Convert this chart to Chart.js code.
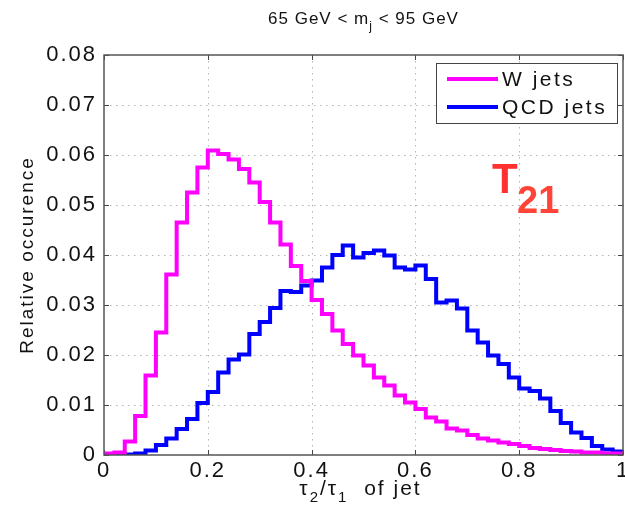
<!DOCTYPE html>
<html>
<head>
<meta charset="utf-8">
<script src="https://cdn.jsdelivr.net/npm/chart.js@4/dist/chart.umd.min.js"></script>
<style>
  html, body { margin: 0; padding: 0; background: #ffffff; }
  #wrap { width: 625px; height: 508px; }
</style>
</head>
<body>
<div id="wrap"><canvas id="c" width="625" height="508"></canvas></div>
<script>
// Histogram of tau2/tau1 for jets with 65 GeV < m_j < 95 GeV, 50 bins on [0, 1]
const binWidth = 0.02;

const wJets = [
  0.0003, 0.0005, 0.0027, 0.0078, 0.0159, 0.0245, 0.0361, 0.0465, 0.0525, 0.0575,
  0.0609, 0.0602, 0.0591, 0.0572, 0.0545, 0.0506, 0.0465, 0.0421, 0.0378, 0.0348,
  0.0310, 0.0282, 0.0249, 0.0222, 0.0199, 0.0179, 0.0155, 0.0139, 0.0119, 0.0105,
  0.0092, 0.0075, 0.0067, 0.0053, 0.0049, 0.0040, 0.0033, 0.0029, 0.0025, 0.0022,
  0.0018, 0.0014, 0.0012, 0.0010, 0.0008, 0.0007, 0.0005, 0.0005, 0.0003, 0.0003
];

const qcdJets = [
  0.0001, 0.0001, 0.0001, 0.0003, 0.0009, 0.0020, 0.0033, 0.0052, 0.0072, 0.0104,
  0.0126, 0.0165, 0.0191, 0.0201, 0.0242, 0.0266, 0.0294, 0.0328, 0.0326, 0.0339,
  0.0349, 0.0375, 0.0400, 0.0419, 0.0395, 0.0404, 0.0409, 0.0399, 0.0375, 0.0371,
  0.0379, 0.0352, 0.0305, 0.0309, 0.0293, 0.0249, 0.0225, 0.0199, 0.0182, 0.0155,
  0.0133, 0.0128, 0.0113, 0.0088, 0.0064, 0.0045, 0.0034, 0.0018, 0.0011, 0.0007
];

const xTickLabels = ['0', '0.2', '0.4', '0.6', '0.8', '1'];
const yTickLabels = ['0', '0.01', '0.02', '0.03', '0.04', '0.05', '0.06', '0.07', '0.08'];
const seriesNames = ['W jets', 'QCD jets'];
const seriesColors = ['#ff00ff', '#0000ff'];

const FONT = "'Liberation Sans', Arial, Helvetica, sans-serif";

// stairs: one point per left bin edge, plus the closing edge at x = 1
function stairs(values) {
  const pts = values.map((v, i) => ({ x: Math.round(i * binWidth * 100) / 100, y: v }));
  pts.push({ x: 1, y: values[values.length - 1] });
  return pts;
}

// draw a run of text pieces, some of them lowered as subscripts
function drawRich(ctx, parts, cx, baseline, size, spacing) {
  ctx.save();
  ctx.textBaseline = 'alphabetic';
  ctx.textAlign = 'left';
  ctx.letterSpacing = spacing + 'px';
  let total = 0;
  const widths = parts.map(p => {
    ctx.font = (p.sub ? Math.round(size * 0.7) : size) + 'px ' + FONT;
    const w = ctx.measureText(p.t).width;
    total += w;
    return w;
  });
  let x = cx - total / 2;
  parts.forEach((p, i) => {
    ctx.font = (p.sub ? Math.round(size * 0.7) : size) + 'px ' + FONT;
    ctx.fillText(p.t, x, baseline + (p.sub ? size * 0.35 : 0));
    x += widths[i];
  });
  ctx.restore();
}

// wider tracking for the tick labels drawn by the scales
const trackingPlugin = {
  id: 'tracking',
  beforeLayout(chart) { chart.ctx.letterSpacing = '2px'; },
  beforeDraw(chart) { chart.ctx.letterSpacing = '2px'; }
};

// axes box, dotted grid and inward tick marks
const framePlugin = {
  id: 'frame',
  beforeDatasetsDraw(chart) {
    const { ctx, chartArea: a, scales } = chart;
    ctx.save();
    ctx.strokeStyle = '#b4b4b4';
    ctx.lineWidth = 1;
    ctx.setLineDash([1.5, 4.5]);
    scales.x.ticks.forEach(t => {
      const px = Math.round(scales.x.getPixelForValue(t.value)) + 0.5;
      if (px <= a.left + 1 || px >= a.right - 1) return;
      ctx.beginPath(); ctx.moveTo(px, a.top); ctx.lineTo(px, a.bottom); ctx.stroke();
    });
    scales.y.ticks.forEach(t => {
      const py = Math.round(scales.y.getPixelForValue(t.value)) + 0.5;
      if (py <= a.top + 1 || py >= a.bottom - 1) return;
      ctx.beginPath(); ctx.moveTo(a.left, py); ctx.lineTo(a.right, py); ctx.stroke();
    });
    ctx.setLineDash([]);
    ctx.strokeStyle = '#444444';
    const tl = 5;
    scales.x.ticks.forEach(t => {
      const px = Math.round(scales.x.getPixelForValue(t.value)) + 0.5;
      ctx.beginPath();
      ctx.moveTo(px, a.bottom); ctx.lineTo(px, a.bottom - tl);
      ctx.moveTo(px, a.top); ctx.lineTo(px, a.top + tl);
      ctx.stroke();
    });
    scales.y.ticks.forEach(t => {
      const py = Math.round(scales.y.getPixelForValue(t.value)) + 0.5;
      ctx.beginPath();
      ctx.moveTo(a.left, py); ctx.lineTo(a.left + tl, py);
      ctx.moveTo(a.right, py); ctx.lineTo(a.right - tl, py);
      ctx.stroke();
    });
    ctx.restore();
  },
  afterDatasetsDraw(chart) {
    const { ctx, chartArea: a } = chart;
    ctx.save();
    ctx.strokeStyle = '#555555';
    ctx.lineWidth = 1.5;
    ctx.strokeRect(a.left, a.top, a.right - a.left, a.bottom - a.top);
    ctx.restore();
  }
};

// title, axis titles, legend box and the T21 tag
const labelsPlugin = {
  id: 'labels',
  afterDraw(chart) {
    const { ctx, chartArea: a } = chart;
    const midX = (a.left + a.right) / 2;
    ctx.save();
    ctx.fillStyle = '#111111';

    drawRich(ctx, [
      { t: '65 GeV < m' }, { t: 'j', sub: true }, { t: ' < 95 GeV' }
    ], midX, 24, 17, 1);

    drawRich(ctx, [
      { t: '\u03C4' }, { t: '2', sub: true }, { t: '/\u03C4' }, { t: '1', sub: true }, { t: '  of jet' }
    ], midX - 3, 495, 21, 2);

    ctx.save();
    ctx.translate(33, (a.top + a.bottom) / 2);
    ctx.rotate(-Math.PI / 2);
    ctx.font = '19px ' + FONT;
    ctx.letterSpacing = '2px';
    ctx.textAlign = 'center';
    ctx.textBaseline = 'alphabetic';
    ctx.fillText('Relative occurence', 0, 0);
    ctx.restore();

    // legend
    const lx = 436, ly = 63, lw = 181, lh = 60;
    ctx.fillStyle = '#ffffff';
    ctx.fillRect(lx, ly, lw, lh);
    ctx.strokeStyle = '#444444';
    ctx.lineWidth = 1;
    ctx.strokeRect(lx + 0.5, ly + 0.5, lw, lh);
    seriesNames.forEach((name, i) => {
      const y = ly + 16 + i * 28;
      ctx.strokeStyle = seriesColors[i];
      ctx.lineWidth = 4;
      ctx.beginPath(); ctx.moveTo(lx + 11, y); ctx.lineTo(lx + 62, y); ctx.stroke();
      ctx.fillStyle = '#111111';
      ctx.font = '21px ' + FONT;
      ctx.letterSpacing = '2.5px';
      ctx.textBaseline = 'middle';
      ctx.textAlign = 'left';
      ctx.fillText(name, lx + 66, y + 1);
    });

    // T21 tag
    ctx.letterSpacing = '0px';
    ctx.fillStyle = '#ff3030';
    ctx.textBaseline = 'alphabetic';
    ctx.textAlign = 'left';
    ctx.font = 'bold 42px ' + FONT;
    ctx.fillText('T', 492, 193);
    ctx.fillStyle = '#ff4438';
    ctx.font = 'bold 38px ' + FONT;
    ctx.fillText('21', 517, 213);
    ctx.restore();
  }
};

new Chart(document.getElementById('c'), {
  type: 'line',
  data: {
    datasets: [
      { label: seriesNames[0], data: stairs(wJets), borderColor: seriesColors[0], borderWidth: 4, stepped: 'before', pointRadius: 0, fill: false },
      { label: seriesNames[1], data: stairs(qcdJets), borderColor: seriesColors[1], borderWidth: 4, stepped: 'before', pointRadius: 0, fill: false }
    ]
  },
  options: {
    responsive: false,
    animation: false,
    layout: { padding: { left: 0, top: 55, right: 2, bottom: 0 } },
    plugins: { legend: { display: false }, title: { display: false }, tooltip: { enabled: false } },
    scales: {
      x: {
        type: 'linear', min: 0, max: 1,
        afterFit(s) { s.height = 53; s.paddingLeft = 0; s.paddingRight = 0; },
        grid: { display: false, drawTicks: false },
        border: { display: false },
        ticks: {
          stepSize: 0.2, padding: 3, color: '#111111', maxRotation: 0,
          font: { family: FONT, size: 22 },
          callback: (v) => xTickLabels[Math.round(v / 0.2)]
        }
      },
      y: {
        type: 'linear', min: 0, max: 0.08,
        afterFit(s) { s.width = 104; s.paddingTop = 0; s.paddingBottom = 0; },
        grid: { display: false, drawTicks: false },
        border: { display: false },
        ticks: {
          stepSize: 0.01, padding: 7, color: '#111111',
          font: { family: FONT, size: 22 },
          callback: (v) => yTickLabels[Math.round(v / 0.01)]
        }
      }
    }
  },
  plugins: [trackingPlugin, framePlugin, labelsPlugin]
});
</script>
</body>
</html>
